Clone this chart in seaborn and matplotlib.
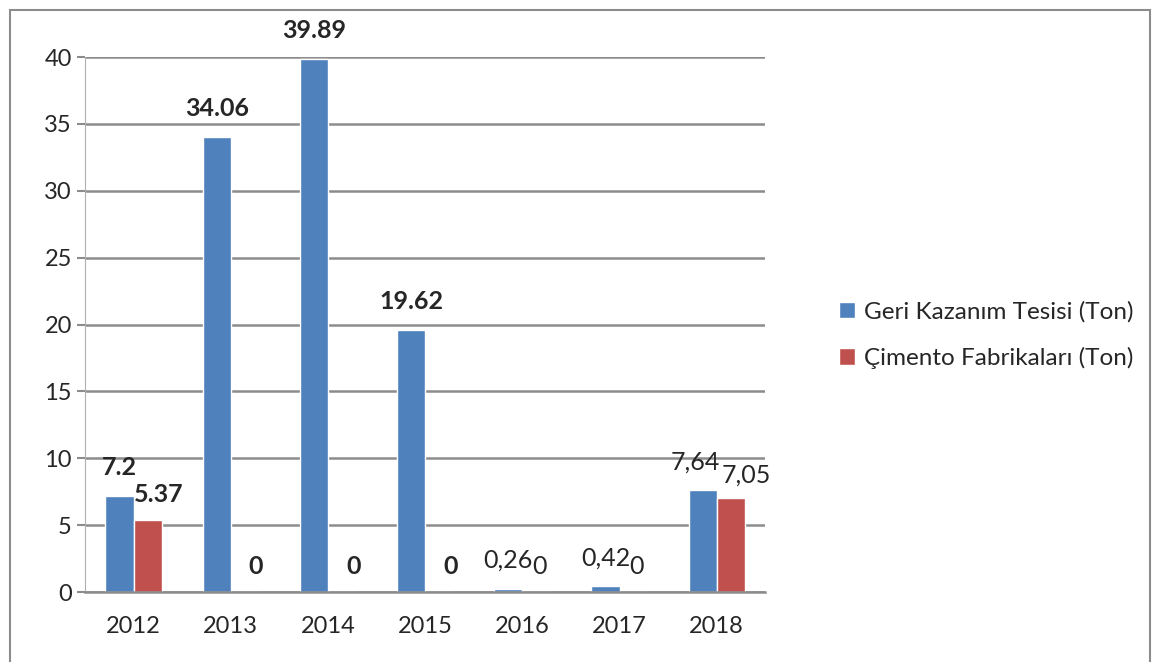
import pandas as pd
import matplotlib.pyplot as plt
import seaborn as sns
from matplotlib.patches import Rectangle

# data
years = ["2012", "2013", "2014", "2015", "2016", "2017", "2018"]
geri = [7.2, 34.06, 39.89, 19.62, 0.26, 0.42, 7.64]
cimento = [5.37, 0, 0, 0, 0, 0, 7.05]
geri_labels = ["7.2", "34.06", "39.89", "19.62", "0,26", "0,42", "7,64"]
cimento_labels = ["5.37", "0", "0", "0", "0", "0", "7,05"]
series = ["Geri Kazanım Tesisi (Ton)", "Çimento Fabrikaları (Ton)"]
bold_years = ["2012", "2013", "2014", "2015"]


def main():
    df = pd.DataFrame({
        "year": years * 2,
        "value": geri + cimento,
        "series": [series[0]] * len(years) + [series[1]] * len(years),
    })

    sns.set_style("white")
    plt.rcParams["font.family"] = ["Lato", "DejaVu Sans"]

    fig = plt.figure(figsize=(11.61, 6.62), dpi=100)
    ax = fig.add_axes([0.0732, 0.1057, 0.586, 0.808])

    sns.barplot(data=df, x="year", y="value", hue="series",
                palette=["#4F81BD", "#C0504D"], width=0.58,
                saturation=1, ax=ax, legend=True)

    ax.set_ylim(0, 40)
    ax.set_yticks(range(0, 41, 5))
    ax.yaxis.grid(True, color="#8c8c8c", linewidth=1.8)
    ax.set_axisbelow(True)
    ax.set_xlabel("")
    ax.set_ylabel("")
    ax.tick_params(axis="both", labelsize=17, length=6, color="#8c8c8c")
    ax.tick_params(axis="x", length=0, pad=17)
    ax.set_xticks([i + 0.5 for i in range(-1, len(years))], minor=True)
    ax.tick_params(axis="x", which="minor", length=7, color="#8c8c8c", width=1.5)
    ax.tick_params(axis="y", left=True, width=1.5)
    for side in ["top", "right"]:
        ax.spines[side].set_visible(False)
    ax.spines["left"].set_color("#b0b0b0")
    ax.spines["bottom"].set_color("#8c8c8c")
    ax.spines["bottom"].set_linewidth(1.8)

    # value labels (red ones sit a little to the right, like the 3d original)
    for i, (cont, labels) in enumerate(zip(ax.containers, [geri_labels, cimento_labels])):
        texts = ax.bar_label(cont, labels=labels, padding=12, fontsize=18)
        for t, y in zip(texts, years):
            if y in bold_years:
                t.set_fontweight("bold")
            if i == 0 and y == "2018":
                t.xyann = (-5, 12)
            elif i == 1 and y == "2018":
                t.xyann = (11, 8)
            elif i == 1 and y in ("2016", "2017"):
                t.xyann = (2, 10)
            elif i == 1:
                t.xyann = (8, 10)

    # legend on the right
    handles, lbls = ax.get_legend_handles_labels()
    ax.get_legend().remove()
    fig.legend(handles, lbls, loc="center left", bbox_to_anchor=(0.704, 0.494),
               frameon=False, fontsize=17.5, handlelength=0.65, handleheight=0.65,
               handletextpad=0.35, labelspacing=1.0)

    # chart border
    fig.patches.append(Rectangle((10 / 1161, -0.1), 1140 / 1161, 1.085,
                                 transform=fig.transFigure, fill=False,
                                 edgecolor="#8c8c8c", linewidth=1.5))

    fig.savefig("out.png", dpi=100)


if __name__ == "__main__":
    main()
